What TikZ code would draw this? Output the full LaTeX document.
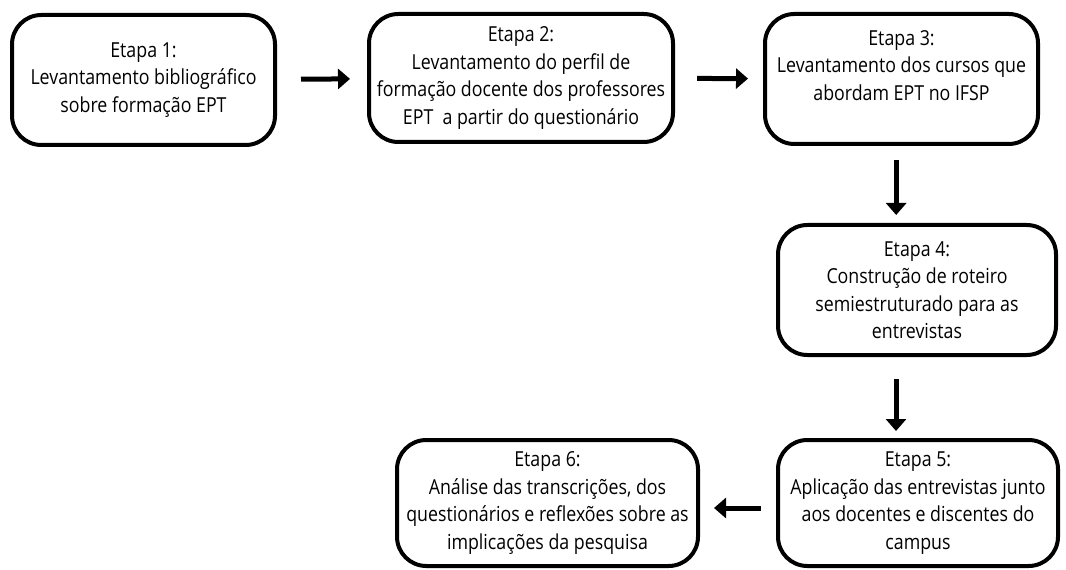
\documentclass[tikz,border=0pt]{standalone}
\usepackage{fontspec}
\setmainfont{Open Sans}[FakeStretch=0.86]
\usetikzlibrary{arrows.meta}
\begin{document}
\begin{tikzpicture}[x=0.75pt, y=-0.75pt, line join=round,
  etapa/.style={draw, line width=3pt, rounded corners=22pt, align=center,
    inner sep=0pt, font=\fontsize{15.5}{20.6}\selectfont},
  seta/.style={line width=3.75pt, -{Triangle[length=9pt,width=15pt]}}]
\useasboundingbox (0,0) rectangle (1066,570);
\node[etapa, minimum width=197.25pt, minimum height=97.5pt] (e1) at (143.5,80)
  {Etapa 1:\\ Levantamento bibliográfico\\ sobre formação EPT};
\node[etapa, minimum width=228pt, minimum height=96pt] (e2) at (521,78)
  {Etapa 2:\\ Levantamento do perfil de\\ formação docente dos professores\\ EPT\ \ a partir do questionário};
\node[etapa, minimum width=204.75pt, minimum height=97.5pt] (e3) at (901.5,79)
  {Etapa 3:\\ Levantamento dos cursos que\\ abordam EPT no IFSP\\ \mbox{}};
\node[etapa, minimum width=208.5pt, minimum height=97.5pt] (e4) at (917,290)
  {Etapa 4:\\ Construção de roteiro\\ semiestruturado para as\\ entrevistas};
\node[etapa, minimum width=210pt, minimum height=94.5pt] (e5) at (918,503)
  {Etapa 5:\\ Aplicação das entrevistas junto\\ aos docentes e discentes do\\ campus};
\node[etapa, minimum width=225.75pt, minimum height=94.5pt] (e6) at (547.5,503)
  {Etapa 6:\\ Análise das transcrições, dos\\ questionários e reflexões sobre as\\ implicações da pesquisa};
% setas
\draw[seta, shorten <=18pt, shorten >=12.75pt] (e1) -- (e2);
\draw[seta, shorten <=16.5pt, shorten >=11.25pt] (e2) -- (e3);
\draw[seta, shorten <=10.5pt, shorten >=6pt] ([xshift=-4pt]e3.south) -- ([xshift=-4pt]e3.south |- e4.north);
\draw[seta, shorten <=16.5pt, shorten >=5.25pt] ([xshift=-15.75pt]e4.south) -- ([xshift=-15.75pt]e4.south |- e5.north);
\draw[seta, shorten <=11.25pt, shorten >=10.5pt] ([yshift=-3.75pt]e5.west) -- ([yshift=-3.75pt]e5.west -| e6.east);
\end{tikzpicture}
\end{document}
